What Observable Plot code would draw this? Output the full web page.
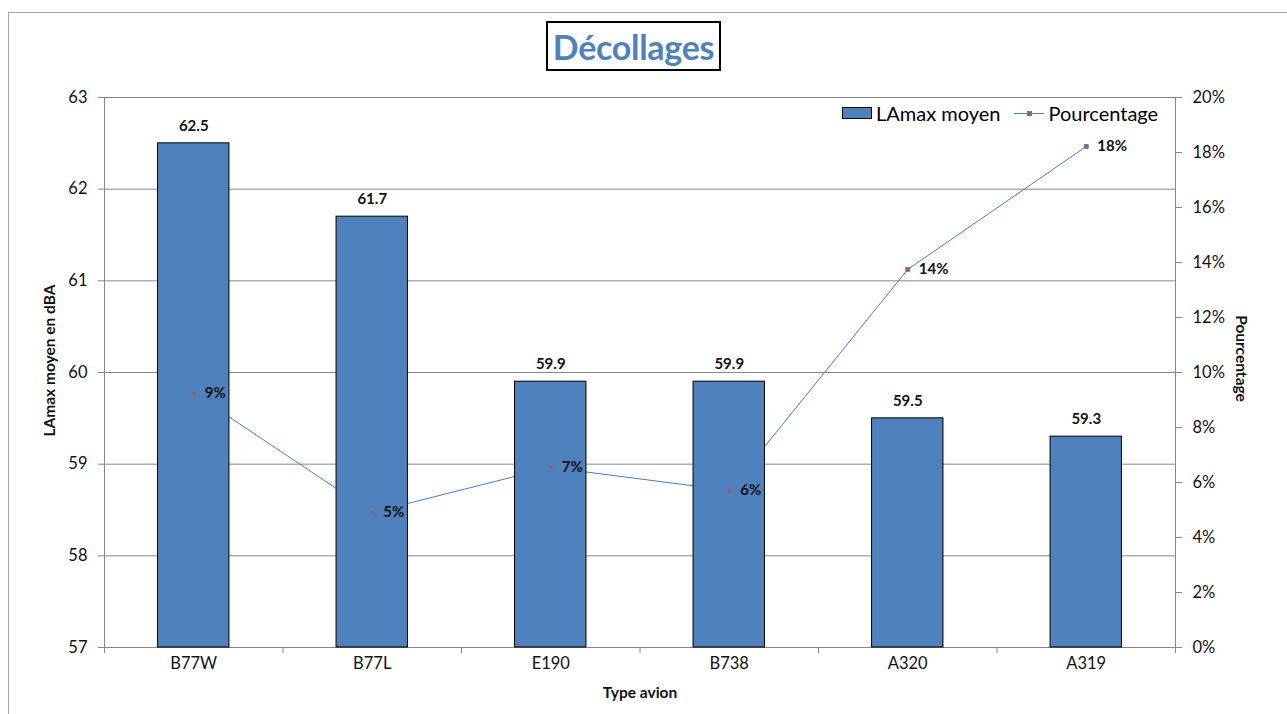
<!DOCTYPE html>
<html>
<head>
<meta charset="utf-8">
<script src="https://cdn.jsdelivr.net/npm/d3@7"></script>
<script src="https://cdn.jsdelivr.net/npm/@observablehq/plot@0.6"></script>
<style>
  body { margin: 0; background: #fff; font-family: Lato, "Open Sans", sans-serif; }
  #wrap { position: relative; width: 1287px; height: 714px; overflow: hidden; }
  #frame { position: absolute; left: 8px; top: 12px; width: 1300px; height: 720px; border: 1.5px solid #a6a6a6; box-sizing: border-box; }
  #title { position: absolute; left: 546px; top: 21px; width: 175px; height: 50px; box-sizing: border-box; border: 2px solid #000; background: #fff;
           color: #4F81BD; font-weight: bold; font-size: 34px; display: flex; align-items: center; justify-content: center; letter-spacing: -0.3px; }
  #legend { position: absolute; left: 842px; top: 101px; display: flex; align-items: center; font-size: 20px; color: #000; white-space: nowrap; }
  .sw { width: 30px; height: 12px; background: #4F81BD; border: 1px solid #000; box-sizing: border-box; margin-right: 4px; }
  .ln { position: relative; width: 30px; height: 12px; margin: 0 4px 0 14px; }
  .ln::before { content: ""; position: absolute; left: 0; right: 0; top: 6px; border-top: 1px solid #4A7EBB; }
  .ln::after { content: ""; position: absolute; left: 13px; top: 4px; width: 3px; height: 3px; background: #C0504D; border: 1px solid #4F81BD; }
  svg { position: absolute; left: 0; top: 0; }
</style>
</head>
<body>
<div id="wrap">
  <div id="frame"></div>
  <div id="chart"></div>
  <div id="title">Décollages</div>
  <div id="legend"><div class="sw"></div><span>LAmax moyen</span><div class="ln"></div><span>Pourcentage</span></div>
</div>
<script>
const categories = ["B77W", "B77L", "E190", "B738", "A320", "A319"];
const lamax = [62.5, 61.7, 59.9, 59.9, 59.5, 59.3];
const pourcentage = [9.24, 4.91, 6.55, 5.71, 13.75, 18.22];
const leftTicks = [57, 58, 59, 60, 61, 62, 63];
const rightTicksPct = [0, 2, 4, 6, 8, 10, 12, 14, 16, 18, 20];

const yMin = 57, yMax = 63, pctMax = 20;
const pctToY = p => yMin + p / pctMax * (yMax - yMin);
const yToPct = y => Math.round((y - yMin) / (yMax - yMin) * pctMax);

const data = categories.map((c, i) => ({cat: c, i, lamax: lamax[i], pct: pourcentage[i]}));
const grey = "#868686";
const txt = "#111";

const chart = Plot.plot({
  width: 1287,
  height: 714,
  marginLeft: 104,
  marginRight: 112,
  marginTop: 97,
  marginBottom: 67,
  style: {fontFamily: "Lato, 'Open Sans', sans-serif", background: "transparent"},
  x: {type: "linear", domain: [0, categories.length]},
  y: {domain: [yMin, yMax]},
  marks: [
    Plot.gridY(leftTicks.slice(1), {stroke: grey, strokeOpacity: 1}),
    Plot.ruleY([yMin], {stroke: grey}),
    Plot.ruleX([0, categories.length], {stroke: grey}),
    Plot.line(data, {x: d => d.i + 0.5, y: d => pctToY(d.pct), stroke: "#4A7EBB", strokeWidth: 1}),
    Plot.rect(data, {x1: d => d.i + 0.3, x2: d => d.i + 0.7, y1: yMin, y2: d => d.lamax, fill: "#4F81BD", stroke: "#000", strokeWidth: 1}),
    Plot.dot(data, {x: d => d.i + 0.5, y: d => pctToY(d.pct), symbol: "square", r: 2.2, fill: "#C0504D", stroke: "#4F81BD", strokeWidth: 1}),
    Plot.text(data, {x: d => d.i + 0.5, y: d => d.lamax, text: d => d.lamax.toFixed(1), dy: -17, fontWeight: "bold", fontSize: 15, fill: txt}),
    Plot.text(data, {x: d => d.i + 0.5, y: d => pctToY(d.pct), text: d => Math.round(d.pct) + "%", dx: 11, textAnchor: "start", fontWeight: "bold", fontSize: 15, fill: txt}),
    Plot.axisY(leftTicks, {anchor: "left", tickSize: 6, tickPadding: 11, stroke: grey, fill: txt, fontSize: 16.5, label: null, tickFormat: d => String(d)}),
    Plot.axisY(rightTicksPct.map(pctToY), {anchor: "right", tickSize: 6, tickPadding: 11, stroke: grey, fill: txt, fontSize: 16.5, label: null, tickFormat: d => yToPct(d) + "%"}),
    Plot.axisX(d3.range(categories.length + 1), {anchor: "bottom", tickSize: 6, stroke: grey, tickFormat: () => "", label: null}),
    Plot.axisX(d3.range(categories.length).map(i => i + 0.5), {anchor: "bottom", tickSize: 0, tickPadding: 10, fill: txt, fontSize: 16.5, label: null, tickFormat: d => categories[Math.floor(d)]}),
    Plot.text(["LAmax moyen en dBA"], {frameAnchor: "left", textAnchor: "middle", dx: -54, dy: -12, rotate: -90, fontWeight: "bold", fontSize: 15.5, fill: txt}),
    Plot.text(["Pourcentage"], {frameAnchor: "right", textAnchor: "middle", dx: 65, dy: -14, rotate: 90, fontWeight: "bold", fontSize: 15.5, fill: txt}),
    Plot.text(["Type avion"], {frameAnchor: "bottom", textAnchor: "middle", dy: 50, fontWeight: "bold", fontSize: 15.5, fill: txt})
  ]
});
document.getElementById("chart").appendChild(chart);
</script>
</body>
</html>
